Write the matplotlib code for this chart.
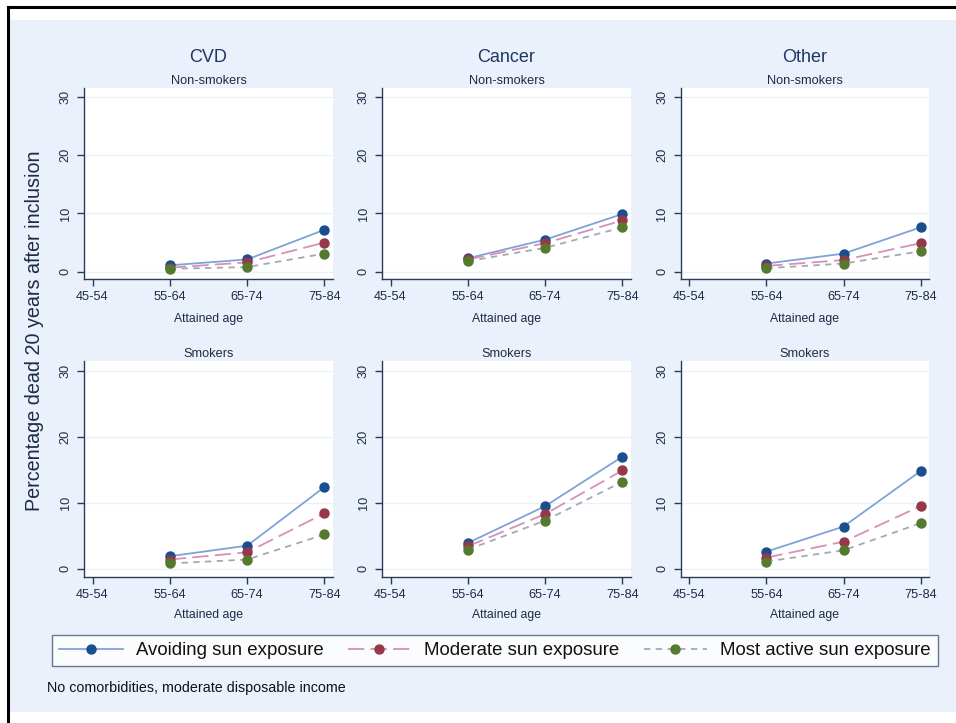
import matplotlib
matplotlib.use("Agg")
import matplotlib.pyplot as plt
from matplotlib.patches import Rectangle
from matplotlib.lines import Line2D

plt.rcParams['font.family'] = ['Liberation Sans', 'DejaVu Sans']

age_groups = ["45-54", "55-64", "65-74", "75-84"]
causes = ["CVD", "Cancer", "Other"]
groups = ["Non-smokers", "Smokers"]
series_names = ["Avoiding sun exposure", "Moderate sun exposure", "Most active sun exposure"]

# values for age groups 55-64, 65-74, 75-84 (no 45-54 values)
cvd_non_avoid = [1.1, 2.1, 7.2]
cvd_non_mod = [0.7, 1.6, 5.0]
cvd_non_most = [0.5, 0.8, 3.1]
cancer_non_avoid = [2.3, 5.5, 9.9]
cancer_non_mod = [2.1, 4.9, 8.8]
cancer_non_most = [1.8, 4.1, 7.6]
other_non_avoid = [1.4, 3.1, 7.6]
other_non_mod = [1.0, 2.0, 4.9]
other_non_most = [0.6, 1.4, 3.5]
cvd_smk_avoid = [1.9, 3.5, 12.4]
cvd_smk_mod = [1.4, 2.5, 8.4]
cvd_smk_most = [0.8, 1.4, 5.2]
cancer_smk_avoid = [3.9, 9.5, 17.0]
cancer_smk_mod = [3.4, 8.3, 14.9]
cancer_smk_most = [2.9, 7.3, 13.2]
other_smk_avoid = [2.6, 6.4, 14.8]
other_smk_mod = [1.7, 4.1, 9.5]
other_smk_most = [1.1, 2.8, 6.9]

data = {
    ("Non-smokers", "CVD"): [cvd_non_avoid, cvd_non_mod, cvd_non_most],
    ("Non-smokers", "Cancer"): [cancer_non_avoid, cancer_non_mod, cancer_non_most],
    ("Non-smokers", "Other"): [other_non_avoid, other_non_mod, other_non_most],
    ("Smokers", "CVD"): [cvd_smk_avoid, cvd_smk_mod, cvd_smk_most],
    ("Smokers", "Cancer"): [cancer_smk_avoid, cancer_smk_mod, cancer_smk_most],
    ("Smokers", "Other"): [other_smk_avoid, other_smk_mod, other_smk_most],
}

line_colors = ["#7fa3d8", "#d790b6", "#a3a9b3"]
marker_colors = ["#1a4f8f", "#96384a", "#55792f"]
dashes = [None, (9, 3.5), (3.5, 3)]
text_col = "#1d2b45"
title_col = "#1f3565"
bg = "#eaf1fb"

W, H = 956, 723
fig = plt.figure(figsize=(W / 100, H / 100), dpi=100)
fig.patch.set_facecolor("white")

# background panel and frame
fig.patches.append(Rectangle((10 / W, 1 - 712 / H), (W - 10) / W, (712 - 20) / H,
                             transform=fig.transFigure, facecolor=bg, edgecolor="none", zorder=-10))
fig.add_artist(Line2D([8 / W, 1], [1 - 7 / H, 1 - 7 / H], transform=fig.transFigure, color="black", lw=2.2))
fig.add_artist(Line2D([8 / W, 8 / W], [0, 1 - 7 / H], transform=fig.transFigure, color="black", lw=2.2))

col_x = [(84, 333), (382, 631), (681, 929)]
row_y = [(88, 279), (361, 577)]
xlabel_pads = [7, 5.5]

handles = []
for r, grp in enumerate(groups):
    for c, cause in enumerate(causes):
        x0, x1 = col_x[c]
        y0, y1 = row_y[r]
        ax = fig.add_axes([x0 / W, 1 - y1 / H, (x1 - x0) / W, (y1 - y0) / H])
        ax.set_facecolor("white")
        xs = list(range(1, len(age_groups)))
        for k, vals in enumerate(data[(grp, cause)]):
            ln, = ax.plot(xs, vals, color=line_colors[k], lw=1.3, marker="o", ms=6.5,
                          mfc=marker_colors[k], mec=marker_colors[k], zorder=3)
            if dashes[k] is not None:
                ln.set_dashes(dashes[k])
            if r == 0 and c == 0:
                handles.append(ln)
        ax.set_xlim(-0.11, 3.11)
        ax.set_ylim(-1.25, 31.5)
        ax.set_xticks(range(len(age_groups)))
        ax.set_xticklabels(age_groups)
        ax.set_yticks([0, 10, 20, 30])
        ax.set_yticklabels(["0", "10", "20", "30"], rotation=90, va="center")
        ax.grid(axis="y", color="#edf1f7", lw=1.0, zorder=0)
        ax.set_axisbelow(True)
        for s in ["top", "right"]:
            ax.spines[s].set_visible(False)
        for s in ["left", "bottom"]:
            ax.spines[s].set_color("#2b3a55")
            ax.spines[s].set_linewidth(1.0)
        ax.tick_params(colors="#2b3a55", labelcolor=text_col, labelsize=9.2, length=5, width=1.0, pad=4)
        ax.set_xlabel("Attained age", fontsize=8.8, color=text_col, labelpad=xlabel_pads[r])
        ax.set_title(grp, fontsize=9.2, color=text_col, pad=3)
        if r == 0:
            fig.text((x0 + x1) / 2 / W, 1 - 57 / H, cause, fontsize=13, color=title_col,
                     ha="center", va="center")

fig.text(35 / W, 1 - 331 / H, "Percentage dead 20 years after inclusion", rotation=90,
         fontsize=14.2, color=text_col, ha="center", va="center")

leg = fig.legend(handles, series_names, loc="center", ncol=3, mode="expand",
                 bbox_to_anchor=(52 / W, 1 - 669 / H, 886 / W, 37 / H),
                 fontsize=13.4, frameon=True, fancybox=False, handlelength=3.4,
                 handletextpad=0.7, columnspacing=0.9, borderaxespad=0, borderpad=0.4)
leg.get_frame().set_edgecolor("#4a5670")
leg.get_frame().set_linewidth(1.0)
for t in leg.get_texts():
    t.set_color("#111111")

fig.text(47 / W, 1 - 688 / H, "No comorbidities, moderate disposable income",
         fontsize=10.3, color="#111111", ha="left", va="center")

fig.savefig("out.png", dpi=100, facecolor=fig.get_facecolor())
